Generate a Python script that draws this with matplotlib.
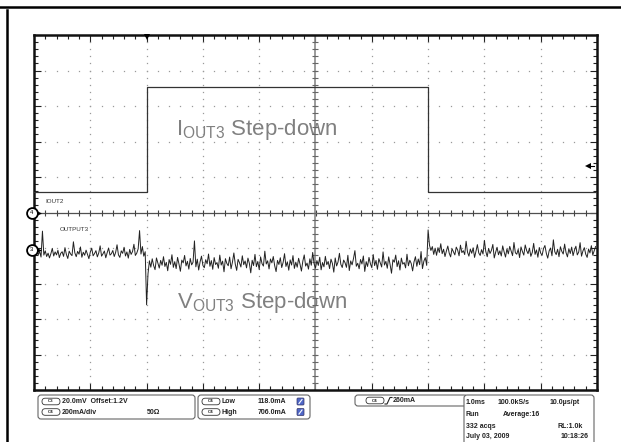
import numpy as np
import matplotlib.pyplot as plt
from matplotlib.patches import FancyBboxPatch
from matplotlib.lines import Line2D

plt.rcParams['font.family'] = ['Liberation Sans', 'DejaVu Sans']
plt.rcParams['mathtext.fontset'] = 'custom'
plt.rcParams['mathtext.rm'] = 'Liberation Sans'

# scope settings
c3_scale = 20.0      # mV/div
c4_scale = 200.0     # mA/div
c3_pos = -1.05       # div
c4_pos = 0.0         # div
trig_level = 260.0   # mA
trig_time = -3.0     # ms
sample_step = 0.025  # ms between plotted samples

# C4: load current (mA)
iout_t = [-5.0, -3.0, -3.0, 2.0, 2.0, 5.0]
iout_ma = [118, 118, 706, 706, 118, 118]

# C3: output voltage around the 1.2V offset (mV)
vout_pre = [
    -1.5, -3.2, 0.4, -2.8, -1.0, -4.1, 10.5, -3.0, -0.6, -3.8,
    -1.9, -4.6, -2.2, 0.8, -3.5, -1.2, -2.9, -0.3, -4.4, -2.0,
    -1.1, -3.7, 1.2, -2.6, -4.9, -0.8, -2.4, -3.3, 4.5, -1.7,
    -3.9, -0.9, -2.5, 1.6, -4.2, -1.4, -3.1, -0.2, -2.7, -5.0,
    -1.3, 0.9, -3.4, -2.1, -0.5, -4.0, -1.8, 2.2, -3.6, -2.3,
    -0.7, -4.5, -1.6, 1.0, -3.0, -2.2, -0.4, -3.8, -1.5, 2.8,
    -2.9, -4.3, -0.6, -2.0, 1.4, -3.5, -1.2, -4.7, 0.2, -2.6,
    -1.0, 3.1, -3.2, -1.9, 0.5, 10.8, -2.4, 1.8, -3.6, -1.1,
]
vout_load = [
    -31.0, -13.5, -6.2, -9.8, -5.1, -8.9, -11.2, -4.6, -7.5, -10.3,
    -6.0, -8.7, -3.9, -9.4, -7.1, -11.8, -5.5, -8.2, -2.8, -9.9,
    -6.7, -10.6, -4.3, -8.0, -12.1, -5.8, -7.4, -3.2, -9.1, -6.5,
    -10.9, -4.9, -8.5, -7.0, 5.0, -9.6, -5.3, -11.4, -6.8, -3.6,
    -8.8, -10.1, -5.6, -7.9, -2.4, -9.3, -6.1, -11.0, -4.4, -8.3,
    -7.2, -10.4, -3.0, -8.6, -6.4, -12.4, -5.0, -7.7, -9.0, -4.1,
    -10.7, -6.9, -1.8, -8.1, -11.6, -5.4, -7.3, -9.7, -3.4, -8.4,
    -6.3, -10.2, -4.7, -7.6, -13.0, -5.9, -8.9, -2.6, -9.5, -6.6,
    -11.1, -4.0, -7.8, -9.2, -0.8, -8.0, -6.2, -10.8, -5.2, -7.4,
    -3.8, -9.0, -12.3, -6.0, -8.3, -4.5, -10.0, -7.1, -2.2, -9.4,
    -6.8, -11.5, -5.7, -8.6, -3.3, -10.5, -7.0, -9.8, -4.8, -8.1,
    -12.0, -6.4, -2.9, -9.2, -7.5, -10.9, -5.1, -8.7, -1.5, -7.9,
    -10.3, -6.1, -8.8, -4.2, -11.3, -7.2, -9.6, -3.7, -8.4, -6.6,
    -10.6, -5.3, -7.7, -12.6, -4.6, -9.1, -6.9, -2.0, -8.2, -10.0,
    -5.8, -7.3, -9.9, -3.1, -11.7, -6.3, -8.5, -4.9, -0.5, -9.3,
    -7.6, -10.7, -5.5, -8.0, -3.5, -12.2, -6.7, -9.4, -4.3, -7.8,
    -10.1, -2.7, -8.9, -6.0, -11.0, -5.0, -7.4, -9.7, -1.2, -8.6,
    -6.5, -10.4, -4.0, -8.3, -13.2, -5.6, -7.0, -3.0, -9.5, -6.2,
    -11.4, -4.7, -8.1, -7.2, -10.2, -2.5, -9.0, -5.9, -7.7, -11.9,
    -6.8, -3.9, -9.3, -5.2, -8.4, -1.0, -10.6, -6.4, -4.4, -8.8,
]
vout_post = [
    11.2, 2.5, -0.4, 1.8, -2.6, 0.9, -3.1, 1.2, -1.5, 3.4,
    -2.2, 0.3, -3.8, -0.7, 2.1, -1.9, -4.0, 0.6, -1.1, -2.9,
    1.5, -0.2, -3.4, 2.6, -1.6, -0.5, -2.7, 4.8, -1.3, -3.6,
    0.4, -2.0, 1.1, -4.3, -0.9, 2.9, -1.8, -3.2, 0.1, -2.4,
    5.3, -1.0, -3.9, 0.8, -2.1, -0.3, 3.0, -4.6, -1.4, 1.4,
    -2.8, -0.6, -3.5, 2.2, -1.2, -4.1, 0.5, -2.3, 1.9, -0.8,
    -3.3, 4.1, -1.7, -2.5, 0.2, -4.4, 1.6, -1.0, -3.0, 2.7,
    -0.4, -2.2, 0.9, -3.7, -1.5, 3.6, -2.6, -0.1, -4.2, 1.3,
    -1.9, -3.1, 0.7, 2.4, -2.0, -4.7, -0.6, 1.0, -3.4, 5.6,
    -1.1, -2.7, 0.3, -3.9, 1.7, -0.9, -2.4, 3.2, -1.6, -4.0,
    0.6, -2.1, 1.5, -3.3, -0.2, 2.0, -2.9, -1.3, 4.0, -3.6,
    -0.7, 1.2, -2.5, -4.3, 0.4, -1.8, 2.3, -3.0, -0.5, 1.8,
]

vout = np.array(vout_pre + vout_load + vout_post)
t = -5.0 + np.arange(len(vout)) * sample_step

W, H = 621, 442
fig = plt.figure(figsize=(W / 100, H / 100), dpi=100)
ax = fig.add_axes([34 / W, 52 / H, 563 / W, 355 / H])
ax.set_xlim(-5, 5)
ax.set_ylim(-5, 5)

# graticule
sub = np.arange(-5, 5.001, 0.2)
for k in range(-4, 5):
    if k == 0:
        continue
    ax.plot(sub, np.full_like(sub, k), ls='none', marker='s', ms=0.9, mew=0, color='#9a9a9a')
    ax.plot(np.full_like(sub, k), sub, ls='none', marker='s', ms=0.9, mew=0, color='#9a9a9a')
ax.axhline(0, color='#505050', lw=0.9, zorder=2)
ax.axvline(0, color='#8a8a8a', lw=1.2, zorder=2)
ax.plot(sub, np.zeros_like(sub), ls='none', marker='|', ms=5, mew=0.8, color='#444444', zorder=2)
ax.plot(np.zeros_like(sub), sub, ls='none', marker='_', ms=5, mew=0.8, color='#666666', zorder=2)

ax.set_xticks(np.arange(-5, 5.01, 1))
ax.set_yticks(np.arange(-5, 5.01, 1))
ax.set_xticks(sub, minor=True)
ax.set_yticks(sub, minor=True)
ax.tick_params(which='both', direction='in', top=True, right=True,
               labelbottom=False, labelleft=False, color='#222222', width=0.8)
ax.tick_params(which='major', length=5)
ax.tick_params(which='minor', length=3)
for s in ax.spines.values():
    s.set_linewidth(1.8)
    s.set_color('#111111')

# waveforms
ax.plot(iout_t, c4_pos + np.array(iout_ma) / c4_scale, color='#333333', lw=0.9, zorder=3)
ax.plot(t, c3_pos + vout / c3_scale, color='#222222', lw=0.7, zorder=3)

# annotations
ax.text(-2.48, 2.18, r'I$_{\mathrm{OUT3}}$ Step-down', fontsize=16, color='#808080',
        va='baseline', zorder=1)
ax.text(-2.46, -2.69, r'V$_{\mathrm{OUT3}}$ Step-down', fontsize=16, color='#808080',
        va='baseline', zorder=1)
ax.text(-4.79, c4_pos + 0.30, 'IOUT2', fontsize=4.5, color='#333333', va='center')
ax.text(-4.54, c3_pos + 0.57, 'OUTPUT3', fontsize=4.5, color='#333333', va='center')

# channel markers
for pos, name in [(c4_pos, '4'), (c3_pos, '3')]:
    ax.plot([-5.04], [pos], marker='o', ms=7.8, mfc='white', mec='black', mew=1.3,
            clip_on=False, zorder=6)
    ax.text(-5.04, pos, name, fontsize=4.2, ha='center', va='center', zorder=7, clip_on=False)
    ax.plot([-4.91], [pos], marker='>', ms=3.5, color='black', mew=0, clip_on=False, zorder=6)

# trigger markers
ax.plot([trig_time], [4.93], marker='v', ms=4.5, color='black', mew=0, clip_on=False, zorder=6)
trig_y = c4_pos + trig_level / c4_scale
ax.plot([4.84], [trig_y], marker='<', ms=4, color='black', mew=0, zorder=6)
ax.plot([4.84, 4.95], [trig_y, trig_y], color='black', lw=0.8, zorder=6)

# page frame
fig.add_artist(Line2D([0, 1], [1 - 7 / H, 1 - 7 / H], transform=fig.transFigure,
                      color='black', lw=1.8))
fig.add_artist(Line2D([7 / W, 7 / W], [0, 1 - 10 / H], transform=fig.transFigure,
                      color='black', lw=1.8))


def box(x0, y0, x1, y1, r=3, ec='#666666', lw=0.8):
    p = FancyBboxPatch((x0 / 100, (H - y1) / 100), (x1 - x0) / 100, (y1 - y0) / 100,
                       boxstyle=f'round,pad=0,rounding_size={r / 100}',
                       transform=fig.dpi_scale_trans, fc='white', ec=ec, lw=lw)
    fig.add_artist(p)


def label(x, y, s, ha='left', size=5.0):
    fig.text(x / W, 1 - y / H, s, ha=ha, va='center', fontsize=size,
             fontweight='bold', color='#222222')


def badge(x0, y, name):
    box(x0, y - 3.3, x0 + 18, y + 3.3, r=3.3, ec='#333333', lw=0.6)
    label(x0 + 9, y, name, ha='center', size=3.2)


def icon(x0, y):
    p = FancyBboxPatch((x0 / 100, (H - y - 3.5) / 100), 7 / 100, 7 / 100,
                       boxstyle='round,pad=0,rounding_size=0.01',
                       transform=fig.dpi_scale_trans, fc='#5068c8', ec='#333366', lw=0.5)
    fig.add_artist(p)
    fig.add_artist(Line2D([(x0 + 2) / 100, (x0 + 5) / 100],
                          [(H - y - 2) / 100, (H - y + 2) / 100],
                          transform=fig.dpi_scale_trans, color='white', lw=0.8))


# readout boxes
box(38, 395, 195, 419)
badge(42, 401.5, 'C3')
label(62, 401.5, '20.0mV  Offset:1.2V')
badge(42, 412, 'C4')
label(62, 412, '200mA/div')
label(147, 412, '50Ω')

box(198, 395, 310, 419)
badge(202, 401.5, 'C4')
label(222, 401.5, 'Low')
label(258, 401.5, '118.0mA')
icon(297, 401.5)
badge(202, 412, 'C4')
label(222, 412, 'High')
label(258, 412, '706.0mA')
icon(297, 412)

box(355, 395, 467, 406)
badge(366, 400.5, 'C4')
fig.add_artist(Line2D(np.array([385, 387, 390, 392]) / 100,
                      (H - np.array([404, 404, 397.5, 397.5])) / 100,
                      transform=fig.dpi_scale_trans, color='#222222', lw=0.8))
label(393, 400.5, '260mA')

box(464, 395, 594, 452)
label(466, 403, '1.0ms')
label(498, 403, '100.0kS/s')
label(580, 403, '10.0µs/pt', ha='right')
label(466, 415, 'Run')
label(503, 415, 'Average:16')
label(466, 427, '332 acqs')
label(583, 427, 'RL:1.0k', ha='right')
label(466, 437, 'July 03, 2009')
label(589, 437, '10:18:26', ha='right')

fig.savefig('out.png', dpi=100)
